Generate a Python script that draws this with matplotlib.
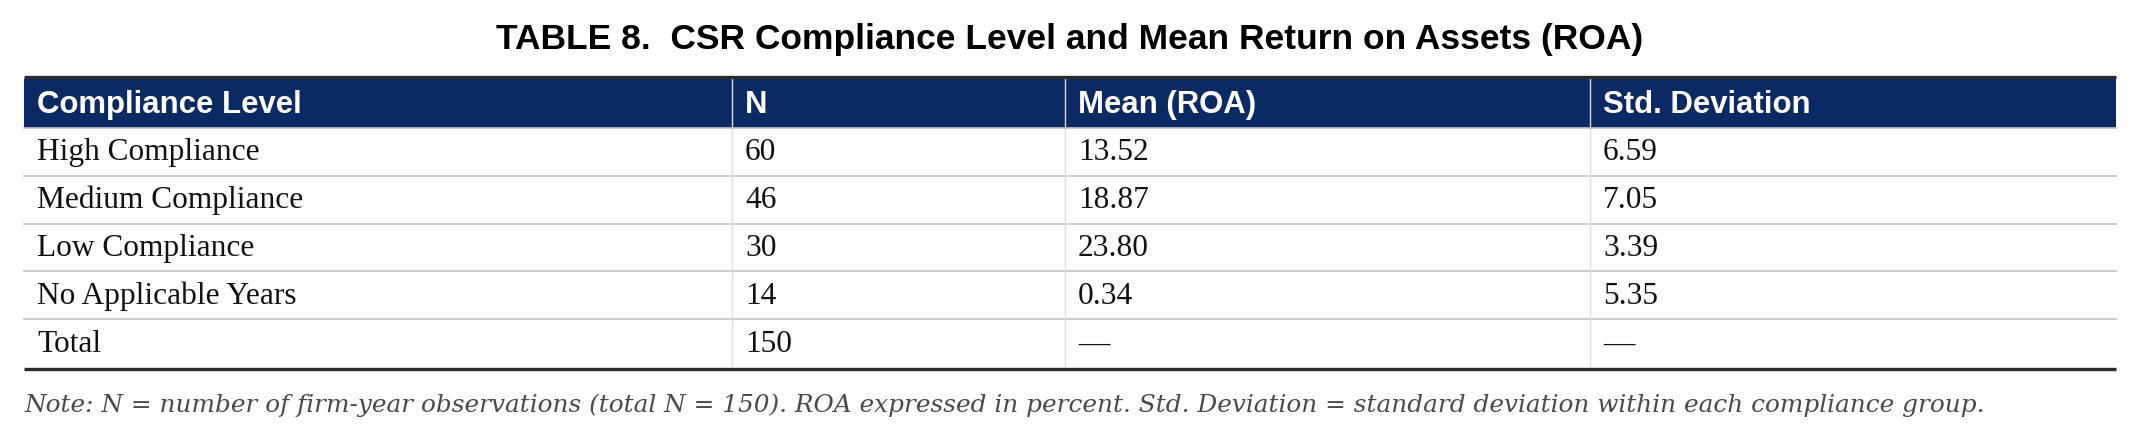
import matplotlib
matplotlib.use('Agg')
import matplotlib.pyplot as plt
from matplotlib.patches import Rectangle

# table content
title = "TABLE 8.  CSR Compliance Level and Mean Return on Assets (ROA)"
columns = ["Compliance Level", "N", "Mean (ROA)", "Std. Deviation"]
levels = ["High Compliance", "Medium Compliance", "Low Compliance", "No Applicable Years", "Total"]
n_obs = ["60", "46", "30", "14", "150"]
mean_roa = ["13.52", "18.87", "23.80", "0.34", "\u2014"]
std_dev = ["6.59", "7.05", "3.39", "5.35", "\u2014"]
note = ("Note: N = number of firm-year observations (total N = 150). ROA expressed in percent. "
        "Std. Deviation = standard deviation within each compliance group.")

W, H = 2140, 444
fig = plt.figure(figsize=(W / 100, H / 100), dpi=100)
ax = fig.add_axes([0, 0, 1, 1])
ax.set_xlim(0, W)
ax.set_ylim(H, 0)
ax.axis('off')

# layout (pixels)
left, right = 24, 2116
col_edges = [24, 732, 1065, 1590, 2116]
head_top, head_bot = 79, 128
row_h = (367 - 128) / len(levels)
pad = 13
navy = '#0b2a63'

ax.text(W / 2, 39, title, ha='center', va='center', fontsize=25.5,
        fontweight='bold', family='Liberation Sans', color='black')

# header
ax.add_patch(Rectangle((left, head_top), right - left, head_bot - head_top,
                       facecolor=navy, edgecolor='none'))
for x in col_edges[1:-1]:
    ax.plot([x, x], [head_top, head_bot], color='#d8dce6', lw=1)
for j, c in enumerate(columns):
    ax.text(col_edges[j] + pad, (head_top + head_bot) / 2 + 1, c, ha='left', va='center',
            fontsize=22.4, fontweight='bold', family='Liberation Sans', color='white')

# body
rows = list(zip(levels, n_obs, mean_roa, std_dev))
for i, r in enumerate(rows):
    y0 = head_bot + i * row_h
    y1 = y0 + row_h
    for j, v in enumerate(r):
        ax.text(col_edges[j] + pad, (y0 + y1) / 2 + 1, v, ha='left', va='center',
                fontsize=22.6, family='Liberation Serif', color='#111111')
    if i < len(rows) - 1:
        ax.plot([left, right], [y1, y1], color='#c4c4c4', lw=1.2)
    for x in col_edges[1:-1]:
        ax.plot([x, x], [y0, y1], color='#dcdcdc', lw=1)
ax.plot([left, right], [head_bot, head_bot], color='#c4c4c4', lw=1.2)

# heavy rules
ax.plot([left, right], [77.5, 77.5], color='#2b2b2b', lw=2.4, solid_capstyle='butt')
ax.plot([left, right], [368.5, 368.5], color='#2b2b2b', lw=2.4, solid_capstyle='butt')

ax.text(left + 1, 405, note, ha='left', va='center', fontsize=17.8,
        style='italic', family='DejaVu Serif', color='#4a4a4a')

fig.savefig('out.png', dpi=100)
